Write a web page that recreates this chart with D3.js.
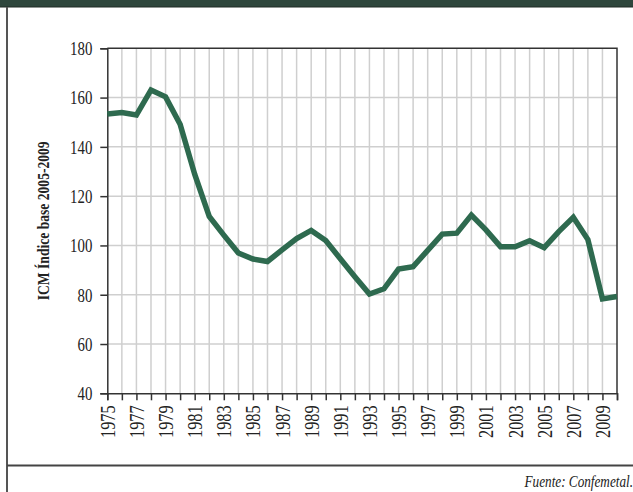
<!DOCTYPE html>
<html>
<head>
<meta charset="utf-8">
<script src="https://cdn.jsdelivr.net/npm/d3@7"></script>
<style>
  body { margin: 0; background: #fff; }
  svg { display: block; }
  .tick text { font-family: "Liberation Serif", serif; fill: #222; }
</style>
</head>
<body>
<div id="chart"></div>
<script>
let w = 633
let h = 492

// data
let years = [1975, 1976, 1977, 1978, 1979, 1980, 1981, 1982, 1983, 1984,
	1985, 1986, 1987, 1988, 1989, 1990, 1991, 1992, 1993, 1994,
	1995, 1996, 1997, 1998, 1999, 2000, 2001, 2002, 2003, 2004,
	2005, 2006, 2007, 2008, 2009, 2010]
let icm = [153.3, 153.9, 152.9, 163.1, 160.3, 149.2, 128.9, 111.8, 104.2, 96.9,
	94.5, 93.5, 98.2, 102.8, 106.1, 102.0, 94.6, 87.3, 80.3, 82.4,
	90.4, 91.4, 98.0, 104.6, 105.0, 112.3, 106.3, 99.5, 99.5, 101.9,
	99.1, 105.6, 111.4, 102.4, 78.3, 79.3]
let yTicks = [40, 60, 80, 100, 120, 140, 160, 180]
let xTicks = d3.range(1975, 2011)
let xLabels = d3.range(1975, 2010, 2)
let yTitle = "ICM Índice base 2005-2009"
let source = "Fuente: Confemetal."

let svg = d3.select("#chart")
	.append("svg")
	.attr("width", w)
	.attr("height", h)

let x = d3.scaleLinear()
	.domain([1975, 2010])
	.range([107.3, 617])

let y = d3.scaleLinear()
	.domain([40, 180])
	.range([393.3, 48.3])

// page furniture: dark band on top, left rule, rule above the source
svg.append("rect")
	.attr("x", 0).attr("y", 0)
	.attr("width", w).attr("height", 7)
	.attr("fill", "#2e463c")
svg.append("line")
	.attr("x1", 0).attr("x2", w)
	.attr("y1", 7).attr("y2", 7)
	.attr("stroke", "#1e2a24").attr("stroke-width", 1.2)
svg.append("line")
	.attr("x1", 7).attr("x2", 7)
	.attr("y1", 7).attr("y2", h)
	.attr("stroke", "#555").attr("stroke-width", 2)
svg.append("line")
	.attr("x1", 7).attr("x2", w)
	.attr("y1", 465.5).attr("y2", 465.5)
	.attr("stroke", "#444").attr("stroke-width", 2)

// gridlines
svg.append("g")
	.selectAll("line")
	.data(xTicks.filter(d => d > 1975 && d < 2010))
	.join("line")
	.attr("x1", d => x(d)).attr("x2", d => x(d))
	.attr("y1", y(180)).attr("y2", y(40))
	.attr("stroke", "#cfcfcf").attr("stroke-width", 1.5)

svg.append("g")
	.selectAll("line")
	.data(yTicks.filter(d => d > 40 && d < 180))
	.join("line")
	.attr("x1", x(1975)).attr("x2", x(2010))
	.attr("y1", d => y(d)).attr("y2", d => y(d))
	.attr("stroke", "#cfcfcf").attr("stroke-width", 1.5)

// frame top + right
svg.append("path")
	.attr("d", "M" + x(1975) + "," + y(180) + "H" + x(2010) + "V" + y(40))
	.attr("fill", "none")
	.attr("stroke", "#333").attr("stroke-width", 1.5)

// y axis
let yAxis = d3.axisLeft(y)
	.tickValues(yTicks)
	.tickSize(7)
	.tickPadding(0)

let gy = svg.append("g")
	.attr("transform", "translate(" + x(1975) + ",0)")
	.call(yAxis)
gy.select(".domain").attr("stroke", "#333").attr("stroke-width", 1.5)
gy.selectAll(".tick line").attr("stroke", "#333").attr("stroke-width", 1.5)
gy.selectAll(".tick text")
	.attr("font-size", 18.5)
	.attr("x", -15 / 0.8)
	.attr("dy", "0.34em")
	.attr("transform", "scale(0.8,1)")

// x axis
let xAxis = d3.axisBottom(x)
	.tickValues(xTicks)
	.tickSize(7)
	.tickFormat(d => xLabels.includes(d) ? d : "")

let gx = svg.append("g")
	.attr("transform", "translate(0," + y(40) + ")")
	.call(xAxis)
gx.select(".domain").attr("stroke", "#333").attr("stroke-width", 1.5)
gx.selectAll(".tick line").attr("stroke", "#333").attr("stroke-width", 1.5)
gx.selectAll(".tick text")
	.attr("font-size", 20.5)
	.attr("text-anchor", "end")
	.attr("x", -12 / 0.8)
	.attr("y", 0)
	.attr("dy", "0.34em")
	.attr("transform", "rotate(-90) scale(0.8,1)")

// the series
let line = d3.line()
	.x((d, i) => x(years[i]))
	.y(d => y(d))

svg.append("path")
	.datum(icm)
	.attr("d", line)
	.attr("fill", "none")
	.attr("stroke", "#2e6a4f")
	.attr("stroke-width", 5.5)
	.attr("stroke-linejoin", "miter")

// y axis title
svg.append("text")
	.attr("transform", "translate(49," + y(110) + ") rotate(-90) scale(0.8,1)")
	.attr("text-anchor", "middle")
	.attr("font-family", "Liberation Serif, serif")
	.attr("font-weight", "bold")
	.attr("font-size", 17)
	.attr("fill", "#222")
	.text(yTitle)

// source
svg.append("text")
	.attr("transform", "translate(633,487) scale(0.8,1)")
	.attr("text-anchor", "end")
	.attr("font-family", "Liberation Serif, serif")
	.attr("font-style", "italic")
	.attr("font-size", 16.5)
	.attr("fill", "#222")
	.text(source)
</script>
</body>
</html>
